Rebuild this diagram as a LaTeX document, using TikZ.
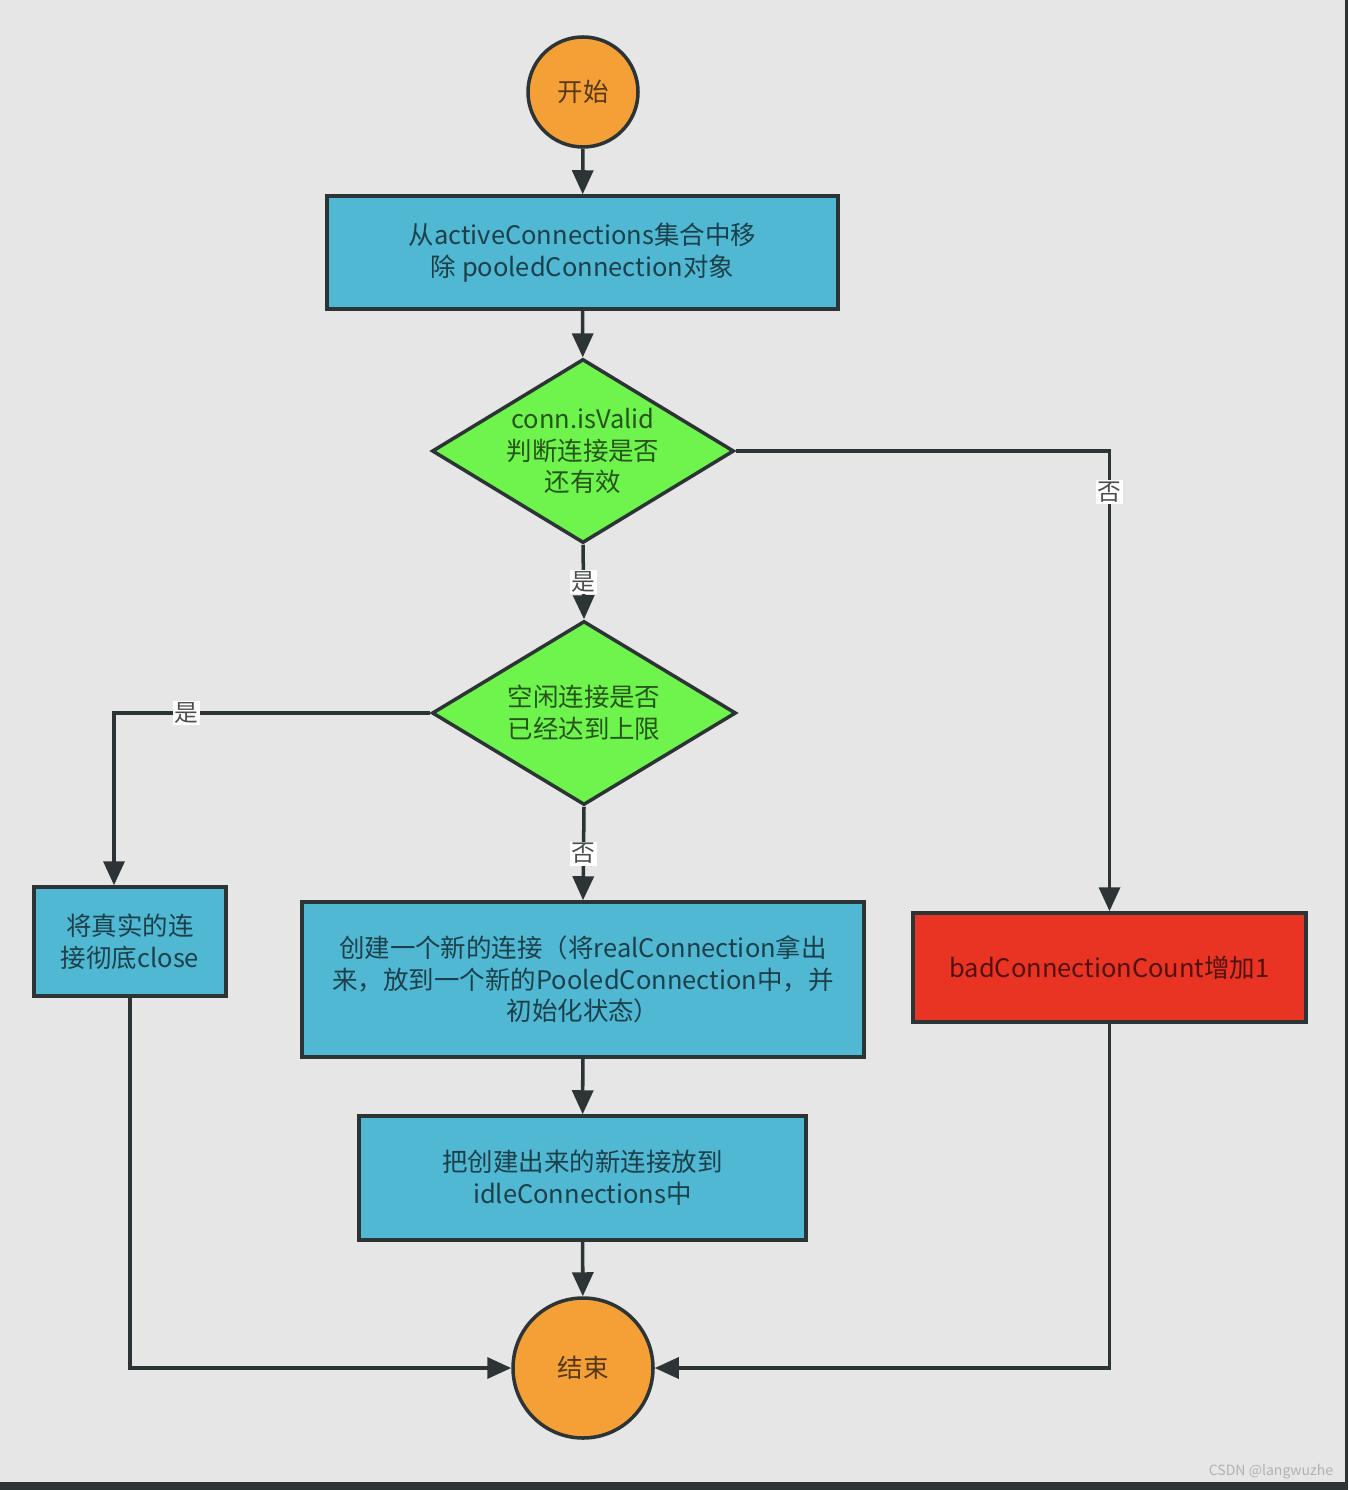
\documentclass[tikz,border=0pt]{standalone}
\usepackage{fontspec}
\setmainfont{Noto Sans CJK SC}
\usepackage{tikz}
\usetikzlibrary{positioning}
\usetikzlibrary{shapes.geometric}
\usetikzlibrary{arrows.meta}
\usepackage{xcolor}
\definecolor{bg}{HTML}{E6E6E6}
\definecolor{edge}{HTML}{2D3436}
\definecolor{orng}{HTML}{F4A037}
\definecolor{sky}{HTML}{50B8D3}
\definecolor{grn}{HTML}{6EF44C}
\definecolor{rd}{HTML}{E93323}

\begin{document}
\begin{tikzpicture}[
		tm/.style = {circle, draw=edge, fill=orng, line width=2pt, inner sep=0, text=black, text opacity=0.65, font=\fontsize{14.5}{18}\selectfont},
		pr/.style = {rectangle, draw=edge, fill=sky, line width=2pt, inner sep=0, align=center, text=black, text opacity=0.65, font=\fontsize{14.5}{18}\selectfont},
		dc/.style = {diamond, aspect=1.64, draw=edge, fill=grn, line width=2pt, inner sep=0, align=center, text=black, text opacity=0.65, font=\fontsize{14.5}{18}\selectfont},
		bd/.style = {pr, fill=rd},
		ln/.style = {-{Triangle[length=0.48cm, width=0.42cm]}, draw=edge, line width=2pt},
		lb/.style = {fill=white, inner sep=1pt, text=black, text opacity=0.7, font=\fontsize{13.5}{15}\selectfont}
		]
		
		%Background
		\fill[bg] (0, 0) rectangle (26.9, -29.64);
		\fill[edge] (26.9, 0) rectangle (26.96, -29.8);
		\fill[edge] (0, -29.64) rectangle (26.96, -29.8);
		\useasboundingbox (0, 0) rectangle (26.96, -29.8);
		
		%Nodes
		\node[tm, minimum size=2.2cm]	(start)	at	(11.66, -1.84)	{开始};
		\node[pr, minimum width=10.22cm, minimum height=2.26cm]	(rm)	at	(11.65, -5.05)	{从activeConnections集合中移\\除 pooledConnection对象};
		\node[dc, minimum width=6.04cm, minimum height=3.68cm]	(valid)	at	(11.66, -9.02)	{conn.isValid\\判断连接是否\\还有效};
		\node[dc, minimum width=6.08cm, minimum height=3.68cm]	(full)	at	(11.68, -14.26)	{空闲连接是否\\已经达到上限};
		\node[pr, minimum width=3.84cm, minimum height=2.18cm]	(close)	at	(2.6, -18.83)	{将真实的连\\接彻底close};
		\node[pr, minimum width=11.24cm, minimum height=3.1cm]	(new)	at	(11.66, -19.59)	{创建一个新的连接（将realConnection拿出\\来，放到一个新的PooledConnection中，并\\初始化状态）};
		\node[bd, minimum width=7.86cm, minimum height=2.18cm]	(bad)	at	(22.19, -19.35)	{badConnectionCount增加1};
		\node[pr, minimum width=8.94cm, minimum height=2.48cm]	(idle)	at	(11.65, -23.56)	{把创建出来的新连接放到\\idleConnections中};
		\node[tm, minimum size=2.8cm]	(end)	at	(11.66, -27.36)	{结束};
		\node[text=gray!60, font=\fontsize{8}{10}\selectfont]	(mark)	at	(25.42, -29.44)	{CSDN @langwuzhe};
		
		%Lines
		\draw[ln]	(start)	--	(rm);
		\draw[ln]	(rm)	--	(valid);
		\draw[ln]	(valid.east)	-|	node[lb, pos=0.545]	{否}	(bad.north);
		\draw[ln]	(valid.south)	--	node[lb]	{是}	(full.north);
		\draw[ln]	(full.west)	-|	node[lb, pos=0.385]	{是}	([xshift=-0.32cm]close.north);
		\draw[ln]	(full.south)	--	node[lb]	{否}	(new.north);
		\draw[ln]	(new)	--	(idle);
		\draw[ln]	(idle)	--	(end);
		\draw[ln]	(close.south)	|-	(end.west);
		\draw[ln]	(bad.south)	|-	(end.east);
	\end{tikzpicture}
\end{document}
